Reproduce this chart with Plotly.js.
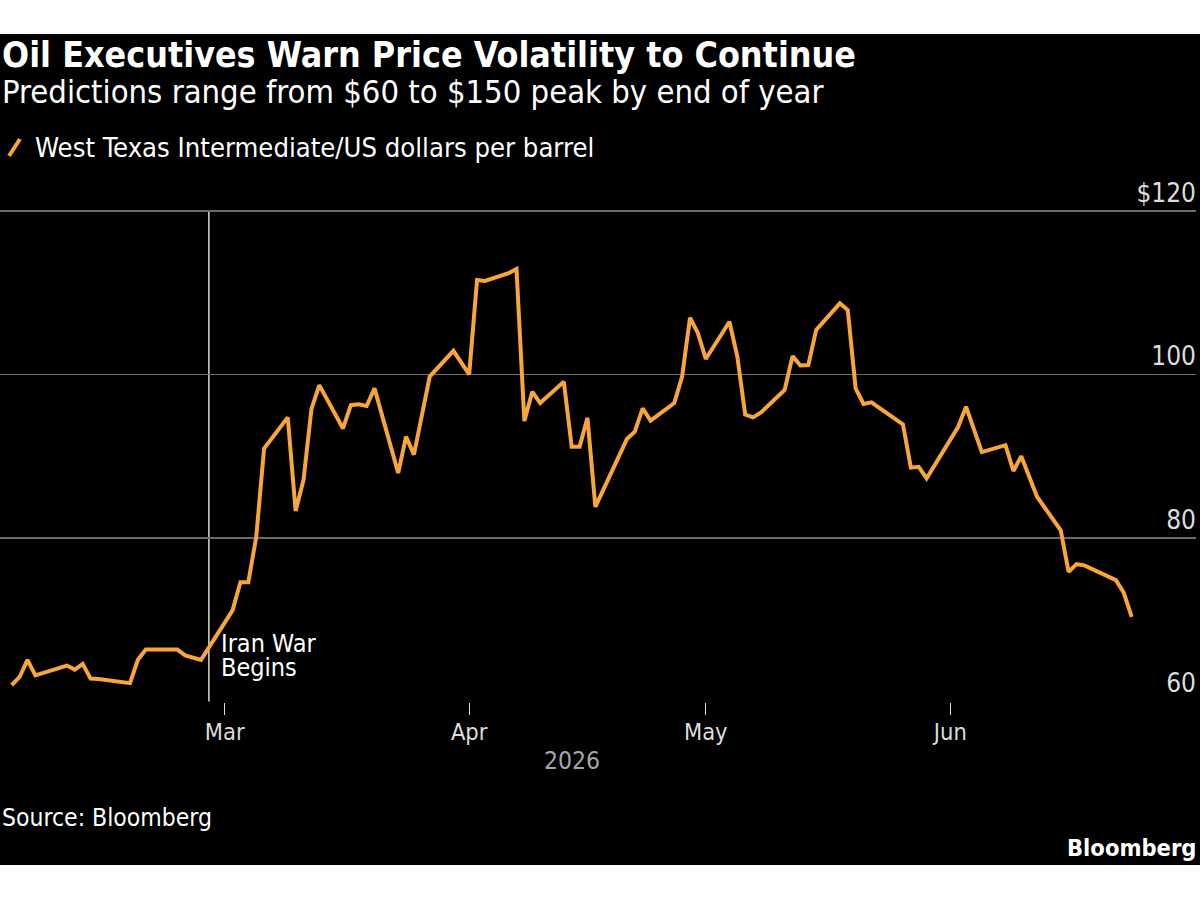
<!DOCTYPE html>
<html>
<head>
<meta charset="utf-8">
<script src="https://cdn.plot.ly/plotly-3.0.1.min.js"></script>
<style>
  html, body { margin: 0; padding: 0; background: #ffffff; }
  #chart { position: absolute; left: 0; top: 34px; width: 1200px; height: 831px; }
</style>
</head>
<body>
<div id="chart"></div>
<script>
// WTI daily settlement prices, US dollars per barrel
const dates = [
  "2026-02-02","2026-02-03","2026-02-04","2026-02-05","2026-02-09","2026-02-10",
  "2026-02-11","2026-02-12","2026-02-13","2026-02-17","2026-02-18","2026-02-19",
  "2026-02-23","2026-02-24","2026-02-26","2026-03-02","2026-03-03","2026-03-04",
  "2026-03-05","2026-03-06","2026-03-09","2026-03-10","2026-03-11","2026-03-12",
  "2026-03-13","2026-03-16","2026-03-17","2026-03-18","2026-03-19","2026-03-20",
  "2026-03-23","2026-03-24","2026-03-25","2026-03-27","2026-03-30","2026-04-01",
  "2026-04-02","2026-04-03","2026-04-06","2026-04-07","2026-04-08","2026-04-09",
  "2026-04-10","2026-04-13","2026-04-14","2026-04-15","2026-04-16","2026-04-17",
  "2026-04-21","2026-04-22","2026-04-23","2026-04-24","2026-04-27","2026-04-28",
  "2026-04-29","2026-04-30","2026-05-01","2026-05-04","2026-05-05","2026-05-06",
  "2026-05-07","2026-05-08","2026-05-11","2026-05-12","2026-05-13","2026-05-14",
  "2026-05-15","2026-05-18","2026-05-19","2026-05-20","2026-05-21","2026-05-22",
  "2026-05-26","2026-05-27","2026-05-28","2026-05-29","2026-06-02","2026-06-03",
  "2026-06-05","2026-06-08","2026-06-09","2026-06-10","2026-06-12","2026-06-15",
  "2026-06-16","2026-06-17","2026-06-18","2026-06-22","2026-06-23","2026-06-24"
];
const wtiPrices = [
  62.0, 63.0, 65.1, 63.2, 64.4, 63.9,
  64.6, 62.8, 62.75, 62.25, 65.1, 66.35,
  66.35, 65.65, 65.1, 71.15, 74.6, 74.6,
  80.1, 90.95, 94.75, 83.3, 87.1, 95.75,
  98.7, 93.4, 96.25, 96.35, 96.15, 98.3,
  87.95, 92.4, 90.2, 99.75, 102.9, 100.0,
  111.55, 111.45, 112.4, 112.9, 94.3, 97.9,
  96.5, 99.1, 91.15, 91.15, 94.7, 83.8,
  92.1, 93.0, 95.85, 94.35, 96.5, 99.75,
  106.95, 105.05, 101.9, 106.45, 102.2, 95.1,
  94.75, 95.35, 98.1, 102.25, 101.1, 101.15,
  105.45, 108.7, 107.9, 98.3, 96.4, 96.6,
  93.9, 88.6, 88.7, 87.3, 93.6, 96.05,
  90.5, 91.35, 88.2, 90.0, 85.05, 80.95,
  75.85, 76.8, 76.65, 74.85, 73.3, 70.35
];
const seriesName = "West Texas Intermediate/US dollars per barrel";

const monthTickDates = ["2026-03-01", "2026-04-01", "2026-05-01", "2026-06-01"];
const monthTickLabels = ["Mar", "Apr", "May", "Jun"];
const priceTickValues = [60, 80, 100, 120];
const priceTickLabels = ["60", "80", "100", "$120"];

const warStartDate = "2026-02-27";
const warLabelLines = ["Iran War", "Begins"];
const yearLabel = "2026";
const titleText = "Oil Executives Warn Price Volatility to Continue";
const subtitleText = "Predictions range from $60 to $150 peak by end of year";
const sourceText = "Source: Bloomberg";
const brandText = "Bloomberg";

const FONT = "'DejaVu Sans Condensed', 'DejaVu Sans', sans-serif";
const ORANGE = "#f8a53a";

// page-pixel helpers for the plot box (plot spans x 0..1196, y 162..702 on the page)
const PLOT_W = 1196, PLOT_TOP = 162, PLOT_BOTTOM = 702;
const px = (x) => x / PLOT_W;
const py = (y) => (PLOT_BOTTOM - y) / (PLOT_BOTTOM - PLOT_TOP);

const trace = {
  x: dates,
  y: wtiPrices,
  type: "scatter",
  mode: "lines",
  name: seriesName,
  line: { color: ORANGE, width: 4, shape: "linear" },
  hoverinfo: "x+y"
};

// the event label is set as two tightly stacked lines
const warLabelAnnotations = warLabelLines.map((line, i) => ({
  text: line, xref: "x", yref: "paper",
  x: warStartDate, xanchor: "left", xshift: 10,
  y: py(643 + 24 * i), yanchor: "middle", align: "left",
  showarrow: false, font: { family: FONT, size: 25, color: "#ffffff" }
}));

const layout = {
  width: 1200,
  height: 831,
  paper_bgcolor: "#000000",
  plot_bgcolor: "#000000",
  margin: { l: 0, r: 4, t: 128, b: 163 },
  showlegend: false,
  font: { family: FONT, color: "#ffffff" },
  title: {
    text: "<b>" + titleText + "</b>",
    font: { family: FONT, size: 35.5, color: "#ffffff" },
    xref: "container", yref: "container",
    x: 0.0017, xanchor: "left",
    y: 1 - 21 / 831, yanchor: "middle",
    pad: { t: 0, b: 0, l: 0, r: 0 }
  },
  xaxis: {
    type: "date",
    range: ["2026-01-31 12:24", "2026-07-02 03:40"],
    tickvals: monthTickDates,
    ticktext: monthTickLabels,
    ticks: "outside",
    ticklen: 12,
    tickwidth: 1,
    tickcolor: "#dddddd",
    ticklabelstandoff: -3,
    tickfont: { family: FONT, size: 23.5, color: "#dddddd" },
    showgrid: false,
    zeroline: false,
    showline: false,
    fixedrange: true
  },
  yaxis: {
    side: "right",
    range: [59.94, 125.99],
    tickvals: priceTickValues,
    ticktext: priceTickLabels,
    ticklabelposition: "inside top",
    ticklabelstandoff: -3,
    ticks: "",
    tickfont: { family: FONT, size: 26, color: "#dddddd" },
    showgrid: true,
    gridcolor: "#6b6b6b",
    gridwidth: 1.5,
    zeroline: false,
    showline: false,
    fixedrange: true
  },
  shapes: [
    {
      type: "line", xref: "x", yref: "y",
      x0: warStartDate, x1: warStartDate, y0: 60, y1: 120,
      line: { color: "#d9d9d9", width: 1.5 },
      layer: "below"
    },
    {
      // legend key
      type: "line", xref: "paper", yref: "paper",
      x0: px(9), x1: px(20), y0: py(156), y1: py(139),
      line: { color: ORANGE, width: 4 }
    }
  ],
  annotations: [
    {
      text: subtitleText, xref: "paper", yref: "paper",
      x: px(0), xanchor: "left", y: py(92), yanchor: "middle",
      showarrow: false, font: { family: FONT, size: 32.5, color: "#ffffff" }
    },
    {
      text: seriesName, xref: "paper", yref: "paper",
      x: px(33), xanchor: "left", y: py(147), yanchor: "middle",
      showarrow: false, font: { family: FONT, size: 27.2, color: "#ffffff" }
    },
    ...warLabelAnnotations,
    {
      text: yearLabel, xref: "paper", yref: "paper",
      x: px(571.7), xanchor: "center", y: py(760), yanchor: "middle",
      showarrow: false, font: { family: FONT, size: 24.5, color: "#a6a6a6" }
    },
    {
      text: sourceText, xref: "paper", yref: "paper",
      x: 0, xanchor: "left", y: py(817), yanchor: "middle",
      showarrow: false, font: { family: FONT, size: 24.5, color: "#ffffff" }
    },
    {
      text: "<b>" + brandText + "</b>", xref: "paper", yref: "paper",
      x: px(1198), xanchor: "right", y: py(848), yanchor: "middle",
      showarrow: false, font: { family: FONT, size: 23.5, color: "#ffffff" }
    }
  ]
};

Plotly.newPlot("chart", [trace], layout, { displayModeBar: false, staticPlot: true });
</script>
</body>
</html>
